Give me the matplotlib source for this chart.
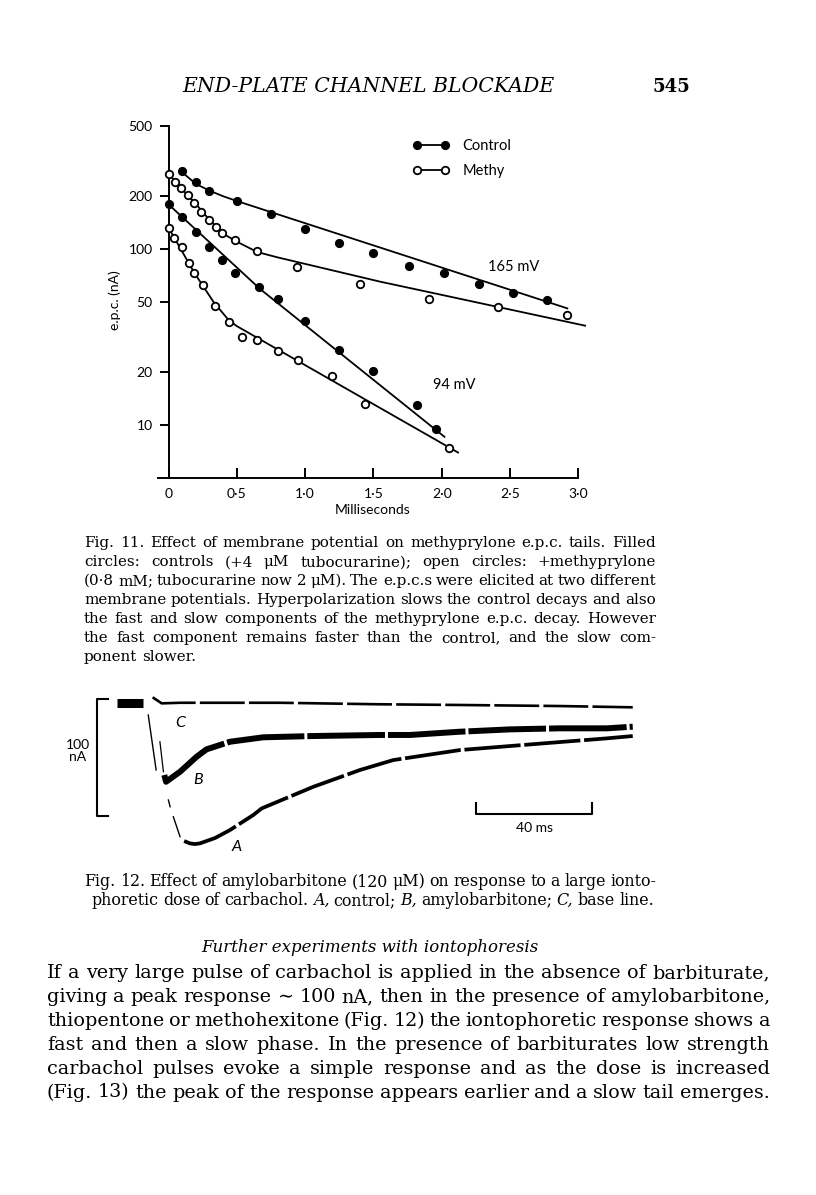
import matplotlib
matplotlib.use('Agg')
import numpy as np
import matplotlib.pyplot as plt
from matplotlib.lines import Line2D
from matplotlib.ticker import NullLocator

W, H = 816, 1195
serif = 'DejaVu Serif'
plt.rcParams['font.family'] = 'Lato'

# ---- Fig. 11 : e.p.c. decays (ms, nA) ----
ctrl165_t = [0.1, 0.2, 0.3, 0.5, 0.75, 1.0, 1.25, 1.5, 1.76, 2.02, 2.27, 2.52, 2.77]
ctrl165_i = [275, 241, 214, 188, 158, 130, 108, 95, 80, 73, 63, 56, 51.5]
ctrl165_fit_t = [0.1, 0.2, 0.3, 0.4, 0.5, 2.92]
ctrl165_fit_i = [272, 234, 214, 199, 187, 46]

methy165_t = [0, 0.05, 0.09, 0.145, 0.19, 0.24, 0.3, 0.35, 0.39, 0.49, 0.65, 0.94, 1.4, 1.91, 2.41, 2.92]
methy165_i = [267, 241, 221, 203, 182, 163, 145, 134, 123, 113, 97, 79, 63, 52, 47, 42.4]
methy165_fit_t = [0, 0.1, 0.2, 0.3, 0.4, 0.5, 0.65, 0.8, 1.55, 3.05]
methy165_fit_i = [267, 218, 180, 146, 122, 110, 96, 89.5, 65.2, 36.7]

ctrl94_t = [0, 0.1, 0.2, 0.3, 0.39, 0.49, 0.66, 0.8, 1.0, 1.25, 1.5, 1.82, 1.96]
ctrl94_i = [179, 151, 125, 103, 86, 73, 60.6, 52.3, 38.8, 26.7, 20.2, 13.0, 9.5]
ctrl94_fit_t = [0, 0.67, 2.02]
ctrl94_fit_i = [179, 59.3, 8.6]

methy94_t = [0, 0.04, 0.1, 0.15, 0.19, 0.25, 0.34, 0.44, 0.54, 0.65, 0.8, 0.95, 1.2, 1.44, 2.05]
methy94_i = [131.6, 115.5, 102, 83, 72.8, 62.6, 47.6, 38.4, 31.5, 30.5, 26.5, 23.4, 19.0, 13.2, 7.46]
methy94_fit_t = [0, 0.19, 0.33, 0.44, 0.5, 2.12]
methy94_fit_i = [132, 73, 50, 39.5, 36.5, 7.0]

xtick_vals = [0, 0.5, 1.0, 1.5, 2.0, 2.5, 3.0]
xtick_labels = ['0', '0·5', '1·0', '1·5', '2·0', '2·5', '3·0']
ytick_vals = [10, 20, 50, 100, 200, 500]
ytick_labels = ['10', '20', '50', '100', '200', '500']

# ---- Fig. 12 : iontophoretic currents (ms, nA) ----
pre_t = [-11.4, -2.3]
pre_i = [0, 0]
C_t = [0.9, 4.0, 10.3, 44.6, 78.8, 106.3, 140.6, 165.5]
C_i = [4.5, -0.7, -0.2, -0.2, -1.5, -2.1, -3.0, -4.1]
B_fast_t = [3.4, 4.6]
B_fast_i = [-33.6, -59.3]
B_t = [4.9, 5.5, 10.3, 16.0, 19.4, 27.4, 38.8, 56, 78.8, 89.1, 106.3, 123.4, 140.6, 156.6, 165.5]
B_i = [-62.1, -67.9, -59.3, -46.4, -40.1, -33.6, -29.8, -28.7, -27.8, -27.8, -25.0, -23.0, -22.1, -22.1, -20.7]
A_fast_t = [-0.6, 2.1, np.nan, 6.3, 6.9, np.nan, 8.0, 10.3]
A_fast_i = [-10.7, -57.8, np.nan, -83.5, -89.3, np.nan, -97.9, -115]
A_t = [11.7, 13.7, 15.4, 17.1, 22.3, 27.4, 35.4, 38.3, 56, 72, 83.4, 106.3, 134.8, 156.6, 165.5]
A_i = [-118.7, -120.7, -121.3, -120.7, -116.1, -109.3, -96.4, -90.7, -72.2, -57.8, -49.3, -40.7, -35, -30.7, -28.7]
bar_nA = 100
bar_ms = 40

fig = plt.figure(figsize=(W / 100, H / 100), dpi=100)
renderer = fig.canvas.get_renderer()


def text_block(lines, x0s, x1s, bases, justify, space=0.25):
    # one font size for the whole block, the largest that lets every line fit
    sizes = []
    for line, x0, x1 in zip(lines, x0s, x1s):
        words = line.replace('_', '').split()
        t = fig.text(0, 0, ''.join(words), fontsize=10, family=serif)
        w10 = t.get_window_extent(renderer).width
        t.remove()
        gap10 = space * 10 * 100 / 72
        sizes.append(10 * (x1 - x0) / (w10 + gap10 * (len(words) - 1)))
    size = min(sizes)
    for line, x0, x1, base, j in zip(lines, x0s, x1s, bases, justify):
        arts = []
        for w in line.split():
            st = 'normal'
            if w.startswith('_'):
                w, st = w[1:], 'italic'
            arts.append(fig.text(0, 1 - base / H, w, fontsize=size, family=serif, style=st,
                                 va='baseline'))
        ww = [a.get_window_extent(renderer).width for a in arts]
        if j and len(ww) > 1:
            gap = (x1 - x0 - sum(ww)) / (len(ww) - 1)
        else:
            gap = 0.3 * size * 100 / 72
        x = x0
        for a, wd in zip(arts, ww):
            a.set_x(x / W)
            x += wd + gap
    return size


# running head
head = fig.text(182.7 / W, 1 - 91.7 / H, 'END-PLATE CHANNEL BLOCKADE', fontsize=13,
                family=serif, style='italic', va='baseline')
head.set_fontsize(13 * 370 / head.get_window_extent(renderer).width)
fig.text(690 / W, 1 - 91.7 / H, '545', fontsize=13, family=serif, weight='bold',
         ha='right', va='baseline')

# ---- Fig. 11 axes ----
ax = fig.add_axes([158 / W, 1 - 478.3 / H, 420.3 / W, 352.6 / H])
ax.set_yscale('log')
ax.set_xlim(-10.5 / 136.6, 3.0)
ax.set_ylim(5, 500)
ax.patch.set_alpha(0)
for s in ['top', 'right']:
    ax.spines[s].set_visible(False)
ax.spines['left'].set_position(('data', 0))
ax.spines['left'].set_linewidth(1.4)
ax.spines['bottom'].set_linewidth(1.4)

for ft, fi in [(ctrl165_fit_t, ctrl165_fit_i), (methy165_fit_t, methy165_fit_i),
               (ctrl94_fit_t, ctrl94_fit_i), (methy94_fit_t, methy94_fit_i)]:
    ax.plot(ft, fi, color='k', lw=1.3, clip_on=False, zorder=2)
for pt, pi in [(ctrl165_t, ctrl165_i), (ctrl94_t, ctrl94_i)]:
    ax.plot(pt, pi, 'o', ms=5.6, mfc='k', mec='k', clip_on=False, zorder=3)
for pt, pi in [(methy165_t, methy165_i), (methy94_t, methy94_i)]:
    ax.plot(pt, pi, 'o', ms=5.4, mfc='white', mec='k', mew=1.3, clip_on=False, zorder=3)

ax.set_xticks(xtick_vals)
ax.set_xticklabels(xtick_labels)
ax.tick_params(axis='x', direction='in', length=7.5, width=1.4, pad=7, labelsize=10)
ax.set_yticks(ytick_vals)
ax.set_yticklabels(ytick_labels)
ax.yaxis.set_minor_locator(NullLocator())
ax.tick_params(axis='y', direction='out', length=6.5, width=1.4, pad=5, labelsize=10)

ax.text(2.53, 79, '165 mV', ha='center', va='center', fontsize=10.5)
ax.text(2.09, 16.9, '94 mV', ha='center', va='center', fontsize=10.5)
fig.text(115 / W, 1 - 300 / H, 'e.p.c. (nA)', rotation=90, ha='center', va='center', fontsize=10)
fig.text(373 / W, 1 - 510 / H, 'Milliseconds', ha='center', va='center', fontsize=10)

handles = [Line2D([], [], color='k', lw=1.3, marker='o', ms=5.6, mfc='k'),
           Line2D([], [], color='k', lw=1.3, marker='o', ms=5.4, mfc='white', mew=1.3)]
ax.legend(handles, ['Control', 'Methy'], loc='upper left', bbox_to_anchor=(413 / W, 1 - 139 / H),
          bbox_transform=fig.transFigure, frameon=False, numpoints=2, handlelength=2.5,
          handletextpad=0.9, labelspacing=0.75, fontsize=10.5, borderpad=0, borderaxespad=0)

# ---- captions ----
cap11 = ['Fig. 11. Effect of membrane potential on methyprylone e.p.c. tails. Filled',
         'circles: controls (+4 μM tubocurarine); open circles: +methyprylone',
         '(0·8 mM; tubocurarine now 2 μM). The e.p.c.s were elicited at two different',
         'membrane potentials. Hyperpolarization slows the control decays and also',
         'the fast and slow components of the methyprylone e.p.c. decay. However',
         'the fast component remains faster than the control, and the slow com-',
         'ponent slower.']
n = len(cap11)
text_block(cap11, [84] * n, [656] * n, [547.3 + 18.9 * k for k in range(n)],
           [True] * (n - 1) + [False])

# ---- Fig. 12 axes ----
ax2 = fig.add_axes([62.5 / W, 1 - 865.9 / H, 641.7 / W, 186.7 / H])
ax2.set_xlim(-30, 190)
ax2.set_ylim(-140, 20)
ax2.axis('off')
ax2.plot(pre_t, pre_i, color='k', lw=6.5, solid_capstyle='butt')
ax2.plot(C_t, C_i, color='k', lw=1.9, dashes=(17, 1.6))
ax2.plot(B_fast_t, B_fast_i, color='k', lw=0.9)
ax2.plot(B_t, B_i, color='k', lw=4.3, dashes=(13, 0.5), solid_joinstyle='round')
ax2.plot(A_fast_t, A_fast_i, color='k', lw=1.0)
ax2.plot(A_t, A_i, color='k', lw=2.7, dashes=(15, 1.0), solid_joinstyle='round')

bx, btop = -18.3, 2.7
ax2.plot([bx + 4, bx, bx, bx + 4], [btop, btop, btop - bar_nA, btop - bar_nA], color='k', lw=1.5)
sx, sy = 111.7, -95.8
ax2.plot([sx, sx, sx + bar_ms, sx + bar_ms], [sy + 10, sy, sy, sy + 10], color='k', lw=1.5)
ax2.text(-24.7, -41.6, '100\nnA', ha='center', va='center', fontsize=10, linespacing=0.95)
ax2.text(sx + bar_ms / 2, -107.8, '40 ms', ha='center', va='center', fontsize=10)
ax2.text(10.3, -17.8, 'C', ha='center', va='center', fontsize=11.5, style='italic')
ax2.text(16.6, -66.4, 'B', ha='center', va='center', fontsize=11.5, style='italic')
ax2.text(29.7, -123.6, 'A', ha='center', va='center', fontsize=11.5, style='italic')

cap12 = ['Fig. 12. Effect of amylobarbitone (120 μM) on response to a large ionto-',
         'phoretic dose of carbachol. _A, control; _B, amylobarbitone; _C, base line.']
text_block(cap12, [84, 91.7], [656, 654], [886, 905], [True, True])

fig.text(370 / W, 1 - 952 / H, 'Further experiments with iontophoresis', fontsize=12,
         family=serif, style='italic', ha='center', va='baseline')

body = ['If a very large pulse of carbachol is applied in the absence of barbiturate,',
        'giving a peak response ∼ 100 nA, then in the presence of amylobarbitone,',
        'thiopentone or methohexitone (Fig. 12) the iontophoretic response shows a',
        'fast and then a slow phase. In the presence of barbiturates low strength',
        'carbachol pulses evoke a simple response and as the dose is increased',
        '(Fig. 13) the peak of the response appears earlier and a slow tail emerges.']
m = len(body)
text_block(body, [47] * m, [770] * m, [978 + 23.9 * k for k in range(m)], [True] * m)

fig.savefig('out.png', dpi=100)
